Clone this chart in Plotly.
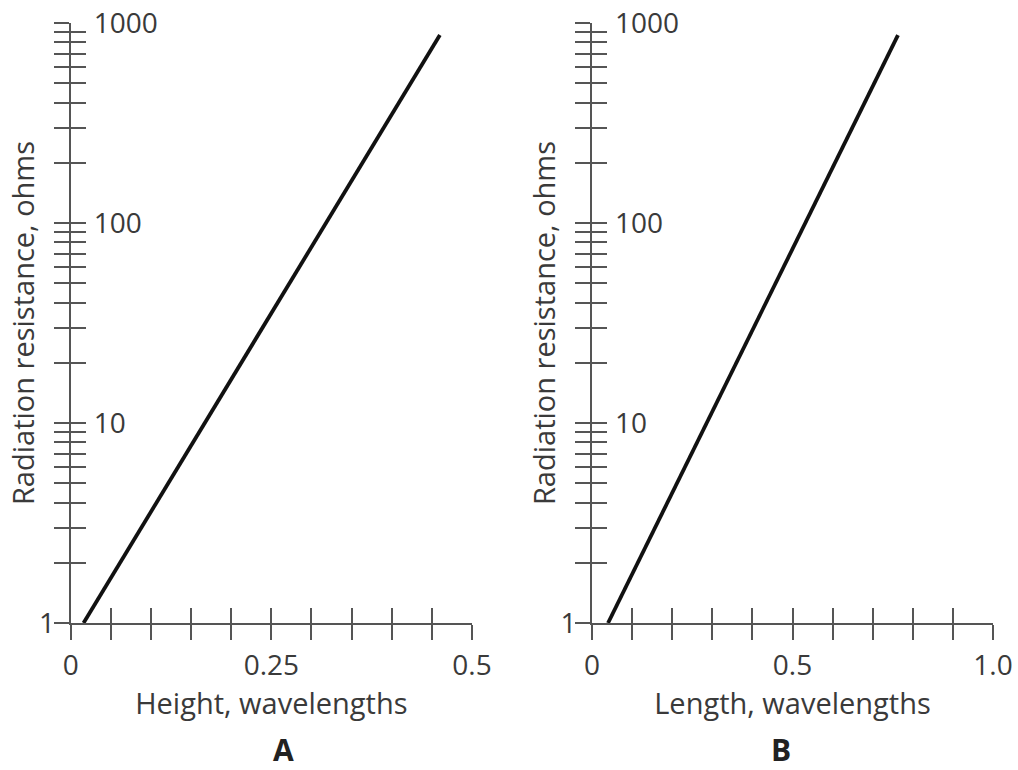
import plotly.graph_objects as go

# line endpoints
height_wl = [0.016, 0.46]
height_r = [1, 870]
length_wl = [0.04, 0.763]
length_r = [1, 870]

x_ticks_a = [0, 0.05, 0.1, 0.15, 0.2, 0.25, 0.3, 0.35, 0.4, 0.45, 0.5]
x_labels_a = ["0", "", "", "", "", "0.25", "", "", "", "", "0.5"]
x_ticks_b = [0, 0.1, 0.2, 0.3, 0.4, 0.5, 0.6, 0.7, 0.8, 0.9, 1.0]
x_labels_b = ["0", "", "", "", "", "0.5", "", "", "", "", "1.0"]

y_ticks = [m * d for d in (1, 10, 100) for m in range(1, 10)] + [1000]
y_labels_right = [10, 100, 1000]
y_labels_left = [1]

FONT = "Open Sans"
TXT = "#3a3a3a"
AX = "#555555"
FS = 28
TFS = 29

ydom = [147 / 770, 747 / 770]
dom_a = [70.7 / 1018, 472 / 1018]
dom_b = [592 / 1018, 993 / 1018]

fig = go.Figure()
fig.add_trace(go.Scatter(x=height_wl, y=height_r, mode="lines",
                         line=dict(color="#111111", width=3.8), xaxis="x", yaxis="y"))
fig.add_trace(go.Scatter(x=length_wl, y=length_r, mode="lines",
                         line=dict(color="#111111", width=3.8), xaxis="x2", yaxis="y2"))
# invisible traces so every overlay axis is drawn
for xa, ya in [("x3", "y3"), ("x4", "y4"), ("x", "y5"), ("x2", "y6")]:
    fig.add_trace(go.Scatter(x=[0], y=[1], mode="markers", marker=dict(opacity=0),
                             xaxis=xa, yaxis=ya, hoverinfo="skip"))

common = dict(showgrid=False, zeroline=False, showline=True, linecolor=AX, linewidth=2,
              tickcolor=AX, tickwidth=2, ticklen=15, automargin=False,
              ticklabeloverflow="allow",
              tickfont=dict(family=FONT, size=FS, color=TXT))


def xmain(dom, rng, tv, tt, title, anchor):
    return dict(common, domain=dom, range=rng, tickmode="array", tickvals=tv, ticktext=tt,
                ticks="outside", anchor=anchor, ticklabelstandoff=1,
                title=dict(text=title, font=dict(family=FONT, size=TFS, color=TXT), standoff=0))


def xover(rng, tv, over, anchor):
    return dict(common, range=rng, tickmode="array", tickvals=tv, ticktext=[""] * len(tv),
                ticks="inside", overlaying=over, anchor=anchor, side="bottom")


def ymain(anchor):
    return dict(common, type="log", domain=ydom, range=[0, 3], tickmode="array",
                tickvals=y_ticks, ticktext=[""] * len(y_ticks), ticks="outside", anchor=anchor,
                title=dict(text="Radiation resistance, ohms",
                           font=dict(family=FONT, size=TFS, color=TXT), standoff=5))


def yinside(over, anchor):
    # inside half of the crossing ticks, plus the "1" label on the left
    return dict(common, type="log", range=[0, 3], tickmode="array", tickvals=y_ticks,
                ticktext=["1" if v in y_labels_left else "" for v in y_ticks],
                ticks="inside", overlaying=over, anchor=anchor, side="left",
                ticklabelstandoff=8)


def ylabels(over, pos):
    # labels 10, 100, 1000 sit to the right of the axis line
    return dict(common, type="log", range=[0, 3], tickmode="array", tickvals=y_labels_right,
                ticktext=[str(v) for v in y_labels_right], ticks="", showline=False,
                overlaying=over, anchor="free", position=pos, side="right",
                ticklabelstandoff=22)


fig.update_layout(
    template="none",
    width=1018, height=770, showlegend=False,
    paper_bgcolor="white", plot_bgcolor="rgba(0,0,0,0)",
    margin=dict(l=0, r=0, t=0, b=0),
    xaxis=xmain(dom_a, [0, 0.5], x_ticks_a, x_labels_a, "Height, wavelengths", "y"),
    xaxis2=xmain(dom_b, [0, 1.0], x_ticks_b, x_labels_b, "Length, wavelengths", "y2"),
    xaxis3=xover([0, 0.5], x_ticks_a, "x", "y"),
    xaxis4=xover([0, 1.0], x_ticks_b, "x2", "y2"),
    yaxis=ymain("x"),
    yaxis2=ymain("x2"),
    yaxis3=yinside("y", "x"),
    yaxis4=yinside("y2", "x2"),
    yaxis5=ylabels("y", dom_a[0]),
    yaxis6=ylabels("y2", dom_b[0]),
    annotations=[
        dict(text="<b>A</b>", x=sum(dom_a) / 2, y=21 / 770, xref="paper", yref="paper",
             yanchor="middle", showarrow=False, font=dict(family=FONT, size=30, color="#222222")),
        dict(text="<b>B</b>", x=sum(dom_b) / 2, y=21 / 770, xref="paper", yref="paper",
             yanchor="middle", showarrow=False, font=dict(family=FONT, size=30, color="#222222")),
    ],
)

# drop the page's default body margin so the figure fills the window exactly
fig.write_html("out.html", config={"displayModeBar": False},
               post_script="document.body.style.margin='0px';")
